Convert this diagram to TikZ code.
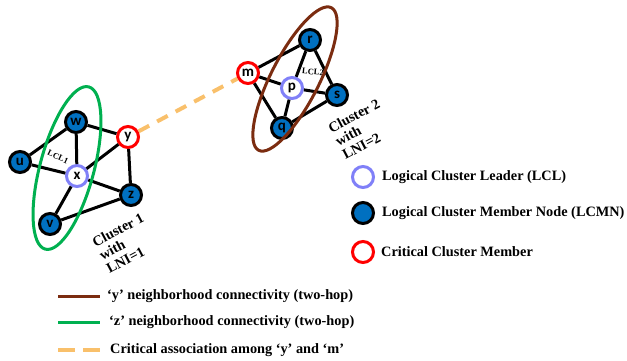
\documentclass[tikz,border=0pt]{standalone}
\usepackage{fontspec}
\setmainfont{Liberation Serif}
\newfontfamily\nodefont{Carlito}
\usepackage{tikz}
\usetikzlibrary{positioning}
\definecolor{nodeblue}{HTML}{0070C0}
\definecolor{lclblue}{HTML}{8080F8}
\definecolor{hopgreen}{HTML}{00B050}
\definecolor{hopbrown}{HTML}{7B2C10}
\definecolor{assocorange}{HTML}{F9C06B}

\begin{document}
\begin{tikzpicture}[x=1pt,y=-1pt,
    member/.style={circle,draw=black,fill=nodeblue,line width=3pt,minimum size=21pt,inner sep=0pt,font=\nodefont\bfseries\fontsize{15}{15}\selectfont},
    leader/.style={member,draw=lclblue,fill=white},
    critical/.style={member,draw=red,fill=white},
    link/.style={line width=3pt},
    legtext/.style={anchor=west,font=\bfseries\fontsize{14.3}{16}\selectfont,inner sep=0pt}]
    \useasboundingbox (0,0) rectangle (627,360);
    % cluster 1
    \node[member] (u) at (20,162) {u};
    \node[member] (w) at (76,122) {w};
    \node[critical] (y) at (128,137) {y};
    \node[leader] (x) at (77,176) {x};
    \node[member] (z) at (131,195) {z};
    \node[member] (v) at (50,224) {v};
    \draw[link] (u) -- (w) (u) -- (x) (w) -- (x) (w) -- (y) (x) -- (y); %edges
    \draw[link] (y) -- (z) (x) -- (z) (x) -- (v) (v) -- (z);
    \node[rotate=-25,font=\bfseries\fontsize{8.5}{8.5}\selectfont] (lcl1) at (58,157) {LCL1};
    \draw[hopgreen,line width=3pt,rotate around={-15:(67,168)}] (67,168) ellipse (27 and 84); %z two-hop
    % cluster 2
    \node[critical] (m) at (248,73) {m};
    \node[member] (r) at (310,40) {r};
    \node[leader] (p) at (292,88) {p};
    \node[member] (s) at (337,95) {s};
    \node[member] (q) at (282,128) {q};
    \draw[link] (m) -- (r) (m) -- (p) (m) -- (q) (r) -- (p); %edges
    \draw[link] (r) -- (s) (p) -- (s) (p) -- (q) (q) -- (s);
    \node[rotate=-5,font=\bfseries\fontsize{8.5}{8.5}\selectfont] (lcl2) at (313,72) {LCL2};
    \draw[hopbrown,line width=3pt,rotate around={-27:(295,79)}] (295,79) ellipse (24 and 80); %y two-hop
    % critical association
    \draw[assocorange,line width=4pt,dash pattern=on 12pt off 9pt] (y) -- (m);
    % cluster labels
    \node[rotate=28,align=left,font=\bfseries\fontsize{14.3}{15}\selectfont] (c1) at (125,243) {Cluster 1\\with\\LNI=1};
    \node[rotate=28,align=left,font=\bfseries\fontsize{14.3}{15}\selectfont] (c2) at (361,129) {Cluster 2\\with\\LNI=2};
    % legend
    \node[leader] (lg1) at (363,177) {};
    \node[member] (lg2) at (363,213) {};
    \node[critical] (lg3) at (363,252) {};
    \node[legtext,right=7pt of lg1] {Logical Cluster Leader (LCL)};
    \node[legtext,right=7pt of lg2] {Logical Cluster Member Node (LCMN)};
    \node[legtext,right=6pt of lg3] {Critical Cluster Member};
    \node[legtext] (ly) at (107,296) {`y' neighborhood connectivity (two-hop)};
    \node[legtext] (lz) at (109,322) {`z' neighborhood connectivity (two-hop)};
    \node[legtext] (la) at (110,350) {Critical association among `y' and `m'};
    \draw[hopbrown,line width=3pt] (58,296) -- (100,296);
    \draw[hopgreen,line width=3pt] (58,322) -- (100,322);
    \draw[assocorange,line width=4pt,dash pattern=on 17pt off 8pt] (58,350) -- (100,350);
\end{tikzpicture}
\end{document}
